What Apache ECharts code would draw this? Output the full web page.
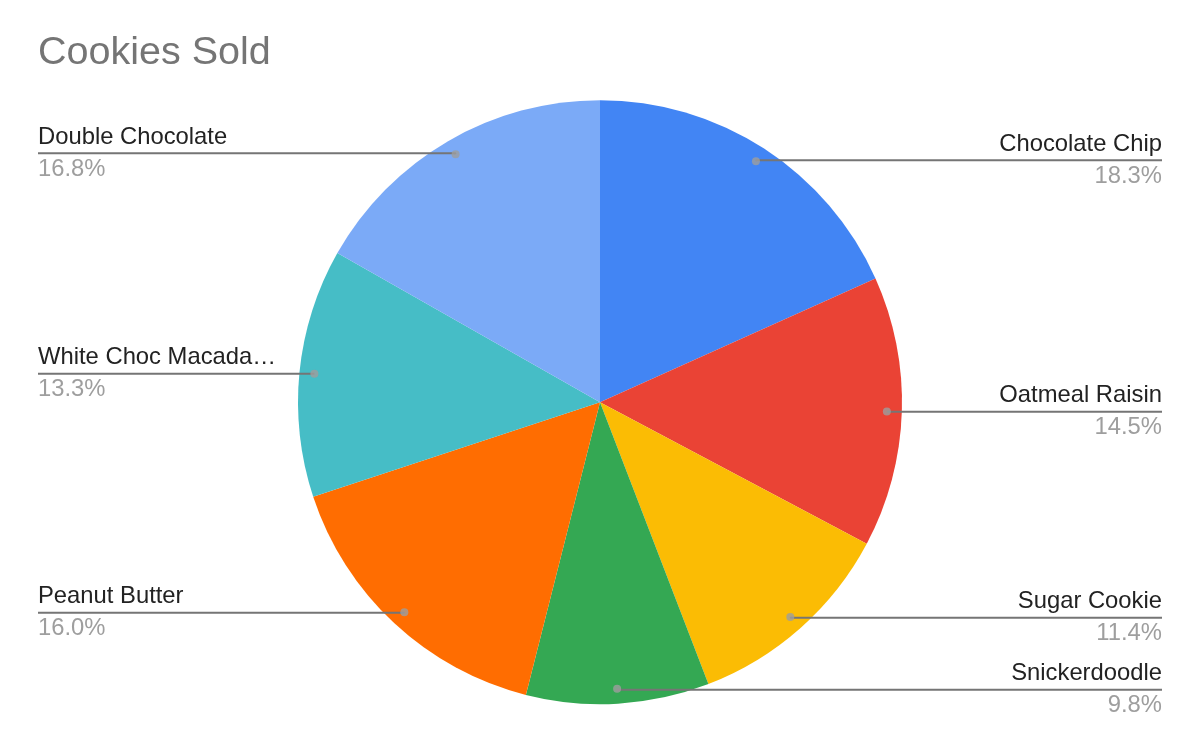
<!DOCTYPE html>
<html>
<head>
<meta charset="utf-8">
<script src="https://cdn.jsdelivr.net/npm/echarts@6/dist/echarts.min.js"></script>
<style>html,body{margin:0;padding:0;background:#fff;}#c{width:1200px;height:742px;}</style>
</head>
<body>
<div id="c"></div>
<script>
const categories = ['Chocolate Chip','Oatmeal Raisin','Sugar Cookie','Snickerdoodle','Peanut Butter','White Choc Macadamia','Double Chocolate'];
const labels = ['Chocolate Chip','Oatmeal Raisin','Sugar Cookie','Snickerdoodle','Peanut Butter','White Choc Macada\u2026','Double Chocolate'];
const values = [18.3, 14.5, 11.4, 9.8, 16.0, 13.3, 16.8];
const colors = ['#4285f4','#ea4335','#fbbc04','#34a853','#ff6d01','#46bdc6','#7baaf7'];

const total = values.reduce((a,b)=>a+b,0);
const mids = [];
let acc = 0;
values.forEach(v => { mids.push(acc + v/2); acc += v; });

const CENTER = ['50%', '54.2%'];
const R = 302;
const R_IN = 287;
const FONT = 'Liberation Sans, Arial, sans-serif';

const chart = echarts.init(document.getElementById('c'), null, {renderer:'canvas'});
chart.setOption({
  animation: false,
  backgroundColor: '#fff',
  title: {
    text: 'Cookies Sold', left: 33, top: 28,
    textStyle: {fontFamily: FONT, fontSize: 39.5, fontWeight: 'normal', color: '#757575'}
  },
  polar: {center: CENTER, radius: R},
  angleAxis: {type:'value', min:0, max: total, startAngle: 90, clockwise: true, show:false},
  radiusAxis: {type:'value', min:0, max: R, show:false},
  series: [
    {
      type: 'pie', center: CENTER, radius: R, startAngle: 90, clockwise: true,
      silent: true, label: {show:false}, labelLine: {show:false},
      itemStyle: {borderWidth: 0},
      data: values.map((v,i)=>({name: categories[i], value: v, itemStyle:{color: colors[i]}}))
    },
    {
      type: 'pie', center: CENTER, radius: R_IN, startAngle: 90, clockwise: true,
      silent: true, z: 3,
      itemStyle: {color: 'rgba(0,0,0,0)', borderWidth: 0},
      avoidLabelOverlap: true,
      label: {
        show: true, position: 'outside', alignTo: 'edge', edgeDistance: 38,
        fontFamily: FONT,
        formatter: p => '{n|' + labels[p.dataIndex] + '}\n{p|' + values[p.dataIndex].toFixed(1) + '%}',
        rich: {
          n: {fontFamily: FONT, fontSize: 23.8, color: '#222222', lineHeight: 32},
          p: {fontFamily: FONT, fontSize: 23.8, color: '#9e9e9e', lineHeight: 32}
        }
      },
      labelLine: {show: true, length: 1, length2: 10, lineStyle: {color: '#757575', width: 2}},
      labelLayout: function (params) {
        const pts = params.labelLinePoints;
        if (!pts) return {};
        const r = params.labelRect;
        const out = pts.map(p => [p[0], p[1]]);
        const last = out[out.length-1];
        if (last[0] < out[0][0]) { last[0] = r.x; } else { last[0] = r.x + r.width; }
        return {labelLinePoints: out};
      },
      data: values.map((v,i)=>({name: categories[i], value: v}))
    },
    {
      type: 'scatter', coordinateSystem: 'polar', symbol: 'circle', symbolSize: 8, z: 5,
      silent: true,
      itemStyle: {color: '#9e9e9e'},
      data: mids.map(m => [R_IN, m])
    }
  ]
});
</script>
</body>
</html>
